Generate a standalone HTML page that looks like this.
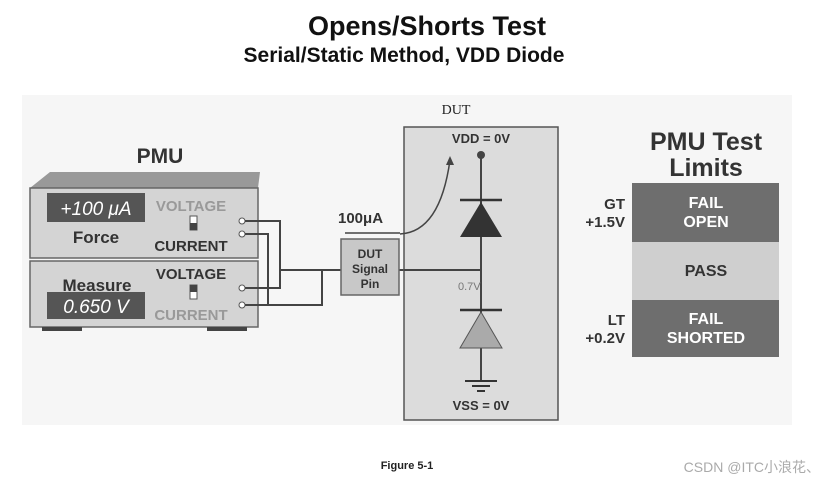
<!DOCTYPE html>
<html><head><style>
body{margin:0;background:#fff;}
svg{display:block;font-family:"Liberation Sans","Noto Sans CJK SC",sans-serif;}
</style></head><body>
<svg width="833" height="487" viewBox="0 0 833 487">
<rect x="22" y="95" width="770" height="330" fill="#f6f6f6"/>
<text x="427" y="35" font-size="27" font-weight="bold" text-anchor="middle" fill="#111">Opens/Shorts Test</text>
<text x="404" y="62" font-size="21" font-weight="bold" text-anchor="middle" fill="#111">Serial/Static Method, VDD Diode</text>
<!-- PMU -->
<text x="160" y="163" font-size="21" font-weight="bold" text-anchor="middle" fill="#333">PMU</text>
<polygon points="30,188 50,172 260,172 258,188" fill="#999"/>
<rect x="30" y="188" width="228" height="70" fill="#d4d4d4" stroke="#666" stroke-width="1.5"/>
<rect x="30" y="261" width="228" height="66" fill="#d4d4d4" stroke="#666" stroke-width="1.5"/>
<rect x="42" y="327" width="40" height="4" fill="#444"/><rect x="207" y="327" width="40" height="4" fill="#444"/>
<rect x="47" y="193" width="98" height="29" fill="#555"/>
<text x="96" y="215" font-size="19" font-style="italic" fill="#fff" text-anchor="middle">+100 μA</text>
<text x="96" y="243" font-size="17" font-weight="bold" fill="#333" text-anchor="middle">Force</text>
<text x="191" y="211" font-size="15" font-weight="bold" fill="#999" text-anchor="middle">VOLTAGE</text>
<text x="191" y="251" font-size="15" font-weight="bold" fill="#333" text-anchor="middle">CURRENT</text>
<rect x="190" y="216" width="7" height="14" fill="#fff" stroke="#555"/><rect x="190" y="223" width="7" height="7" fill="#444"/>
<text x="97" y="291" font-size="17" font-weight="bold" fill="#333" text-anchor="middle">Measure</text>
<rect x="47" y="292" width="98" height="27" fill="#555"/>
<text x="96" y="313" font-size="19" font-style="italic" fill="#fff" text-anchor="middle">0.650 V</text>
<text x="191" y="279" font-size="15" font-weight="bold" fill="#333" text-anchor="middle">VOLTAGE</text>
<text x="191" y="320" font-size="15" font-weight="bold" fill="#999" text-anchor="middle">CURRENT</text>
<rect x="190" y="285" width="7" height="14" fill="#fff" stroke="#555"/><rect x="190" y="285" width="7" height="7" fill="#444"/>
<g fill="#fff" stroke="#555"><circle cx="242" cy="221" r="3"/><circle cx="242" cy="234" r="3"/><circle cx="242" cy="288" r="3"/><circle cx="242" cy="305" r="3"/></g>
<g fill="none" stroke="#444" stroke-width="2">
<polyline points="245,221 280,221 280,288 245,288"/>
<polyline points="245,234 268,234 268,305 245,305 322,305 322,270"/>
<line x1="280" y1="270" x2="341" y2="270"/>
<line x1="345" y1="233" x2="400" y2="233" stroke-width="1.5"/>
<line x1="399" y1="270" x2="481" y2="270"/>
</g>
<text x="338" y="223" font-size="15" font-weight="bold" fill="#333">100μA</text>
<rect x="341" y="239" width="58" height="56" fill="#c8c8c8" stroke="#666" stroke-width="1.5"/>
<text x="370" y="258" font-size="12" font-weight="bold" fill="#333" text-anchor="middle">DUT</text>
<text x="370" y="273" font-size="12" font-weight="bold" fill="#333" text-anchor="middle">Signal</text>
<text x="370" y="288" font-size="12" font-weight="bold" fill="#333" text-anchor="middle">Pin</text>
<!-- DUT -->
<text x="456" y="114" font-size="14" font-family="Liberation Serif,serif" text-anchor="middle" fill="#222">DUT</text>
<rect x="404" y="127" width="154" height="293" fill="#dcdcdc" stroke="#555" stroke-width="1.5"/>
<line x1="404" y1="270" x2="481" y2="270" stroke="#444" stroke-width="2"/>
<text x="481" y="143" font-size="13" font-weight="bold" text-anchor="middle" fill="#333">VDD = 0V</text>
<line x1="481" y1="155" x2="481" y2="381" stroke="#444" stroke-width="2"/>
<circle cx="481" cy="155" r="4" fill="#444"/>
<path d="M400,234 Q440,232 450,160" fill="none" stroke="#444" stroke-width="1.5"/>
<polygon points="446,165 450,156 454,165" fill="#444"/>
<line x1="460" y1="200" x2="502" y2="200" stroke="#333" stroke-width="2.5"/>
<polygon points="460,237 502,237 481,202" fill="#333"/>
<line x1="460" y1="310" x2="502" y2="310" stroke="#333" stroke-width="2.5"/>
<polygon points="460,348 502,348 481,312" fill="#aaa" stroke="#555"/>
<text x="458" y="290" font-size="11" fill="#777">0.7V</text>
<line x1="465" y1="381" x2="497" y2="381" stroke="#333" stroke-width="2"/>
<line x1="472" y1="386" x2="490" y2="386" stroke="#333" stroke-width="2"/>
<line x1="477" y1="391" x2="485" y2="391" stroke="#333" stroke-width="2"/>
<text x="481" y="410" font-size="13" font-weight="bold" text-anchor="middle" fill="#333">VSS = 0V</text>
<!-- Limits -->
<text x="706" y="150" font-size="25" font-weight="bold" text-anchor="middle" fill="#333">PMU Test</text>
<text x="706" y="176" font-size="25" font-weight="bold" text-anchor="middle" fill="#333">Limits</text>
<rect x="632" y="183" width="147" height="59" fill="#6e6e6e"/>
<rect x="632" y="242" width="147" height="58" fill="#cfcfcf"/>
<rect x="632" y="300" width="147" height="57" fill="#6e6e6e"/>
<g font-size="16" font-weight="bold" text-anchor="middle">
<text x="706" y="208" fill="#fff">FAIL</text><text x="706" y="227" fill="#fff">OPEN</text>
<text x="706" y="276" fill="#333">PASS</text>
<text x="706" y="324" fill="#fff">FAIL</text><text x="706" y="343" fill="#fff">SHORTED</text>
</g>
<g font-size="15" font-weight="bold" text-anchor="end" fill="#333">
<text x="625" y="209">GT</text><text x="625" y="227">+1.5V</text>
<text x="625" y="325">LT</text><text x="625" y="343">+0.2V</text>
</g>
<text x="407" y="469" font-size="11" font-weight="bold" text-anchor="middle" fill="#222">Figure 5-1</text>
<text x="820" y="472" font-size="14" text-anchor="end" fill="#aaa">CSDN @ITC小浪花、</text>
</svg>
</body></html>
